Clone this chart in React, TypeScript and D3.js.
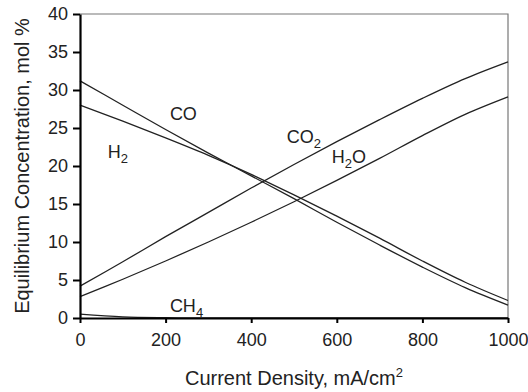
import React, { useEffect, useRef } from "react";
import * as d3 from "d3";

// Current density, mA/cm2
const currentDensity = [0, 100, 200, 300, 400, 500, 600, 700, 800, 900, 1000];

// Equilibrium concentrations, mol %
const coValues = [31.2, 28.0, 24.8, 21.7, 18.7, 15.7, 12.6, 9.6, 6.7, 4.0, 1.7];
const h2Values = [28.0, 25.9, 23.7, 21.4, 18.9, 16.2, 13.4, 10.5, 7.5, 4.7, 2.3];
const co2Values = [4.2, 7.4, 10.7, 13.9, 17.1, 20.2, 23.2, 26.1, 28.9, 31.5, 33.7];
const h2oValues = [2.8, 5.1, 7.5, 10.0, 12.6, 15.3, 18.1, 21.0, 24.0, 26.8, 29.1];
const ch4Values = [0.5, 0.15, 0.04, 0.01, 0, 0, 0, 0, 0, 0, 0];

const xTicks = [0, 200, 400, 600, 800, 1000];
const yTicks = [0, 5, 10, 15, 20, 25, 30, 35, 40];

type Label = { base: string; sub: string; tail: string; x: number; y: number };

// label anchors in data units
const seriesLabels: Label[] = [
    { base: "CO", sub: "", tail: "", x: 210, y: 26.1 },
    { base: "H", sub: "2", tail: "", x: 65, y: 21.1 },
    { base: "CO", sub: "2", tail: "", x: 483, y: 23.0 },
    { base: "H", sub: "2", tail: "O", x: 588, y: 20.4 },
    { base: "CH", sub: "4", tail: "", x: 210, y: 0.85 },
];

const App: React.FC = () => {
    const svgRef = useRef<SVGSVGElement | null>(null);

    useEffect(() => {
        const width = 528;
        const height = 392;
        const margin = { top: 14, right: 20, bottom: 74, left: 80 };
        const font = "'Liberation Sans', Arial, Helvetica, sans-serif";

        d3.select(svgRef.current).selectAll("*").remove();

        const svg = d3
            .select(svgRef.current)
            .attr("width", width)
            .attr("height", height)
            .style("font-family", font);

        const x = d3.scaleLinear().domain([0, 1000]).range([margin.left, width - margin.right]);
        const y = d3.scaleLinear().domain([0, 40]).range([height - margin.bottom, margin.top]);

        // frame: thin top and right borders
        svg.append("path")
            .attr("d", `M${x(0)},${y(40)}H${x(1000)}V${y(0)}`)
            .attr("fill", "none")
            .attr("stroke", "#777")
            .attr("stroke-width", 1.2);

        // series lines
        const line = d3
            .line<number>()
            .x((_, i) => x(currentDensity[i]))
            .y((d) => y(d))
            .curve(d3.curveCatmullRom);

        [coValues, h2Values, co2Values, h2oValues, ch4Values].forEach((vals) => {
            svg.append("path")
                .datum(vals)
                .attr("d", line)
                .attr("fill", "none")
                .attr("stroke", "#222")
                .attr("stroke-width", 1.3);
        });

        // axes
        const xAxis = svg
            .append("g")
            .attr("transform", `translate(0,${y(0)})`)
            .call(
                d3.axisBottom(x).tickValues(xTicks).tickFormat(d3.format("d"))
                    .tickSize(5).tickSizeOuter(0).tickPadding(10)
            );
        const yAxis = svg
            .append("g")
            .attr("transform", `translate(${x(0)},0)`)
            .call(d3.axisLeft(y).tickValues(yTicks).tickSize(7).tickSizeOuter(0).tickPadding(5));

        [xAxis, yAxis].forEach((g) => {
            g.select(".domain").attr("stroke", "#000").attr("stroke-width", 2.2);
            g.selectAll(".tick line").attr("stroke", "#000").attr("stroke-width", 2);
            g.selectAll(".tick text")
                .attr("fill", "#222")
                .style("font-family", font)
                .style("font-size", "18px");
        });

        // series labels
        seriesLabels.forEach((l) => {
            const t = svg
                .append("text")
                .attr("x", x(l.x))
                .attr("y", y(l.y))
                .attr("fill", "#222")
                .style("font-size", "18px");
            t.append("tspan").text(l.base);
            if (l.sub) {
                t.append("tspan").attr("dy", 5).style("font-size", "13px").text(l.sub);
            }
            if (l.tail) {
                t.append("tspan").attr("dy", -5).text(l.tail);
            }
        });

        // axis titles
        const xt = svg
            .append("text")
            .attr("x", (x(0) + x(1000)) / 2)
            .attr("y", 385)
            .attr("text-anchor", "middle")
            .attr("fill", "#222")
            .style("font-size", "20px");
        xt.append("tspan").text("Current Density, mA/cm");
        xt.append("tspan").attr("dy", -8).style("font-size", "13px").text("2");

        svg.append("text")
            .attr("transform", `translate(29,${(y(0) + y(40)) / 2}) rotate(-90)`)
            .attr("text-anchor", "middle")
            .attr("fill", "#222")
            .style("font-size", "20px")
            .text("Equilibrium Concentration, mol %");
    }, []);

    return <svg ref={svgRef} style={{ position: "absolute", left: 0, top: 0 }} />;
};

export default App;
